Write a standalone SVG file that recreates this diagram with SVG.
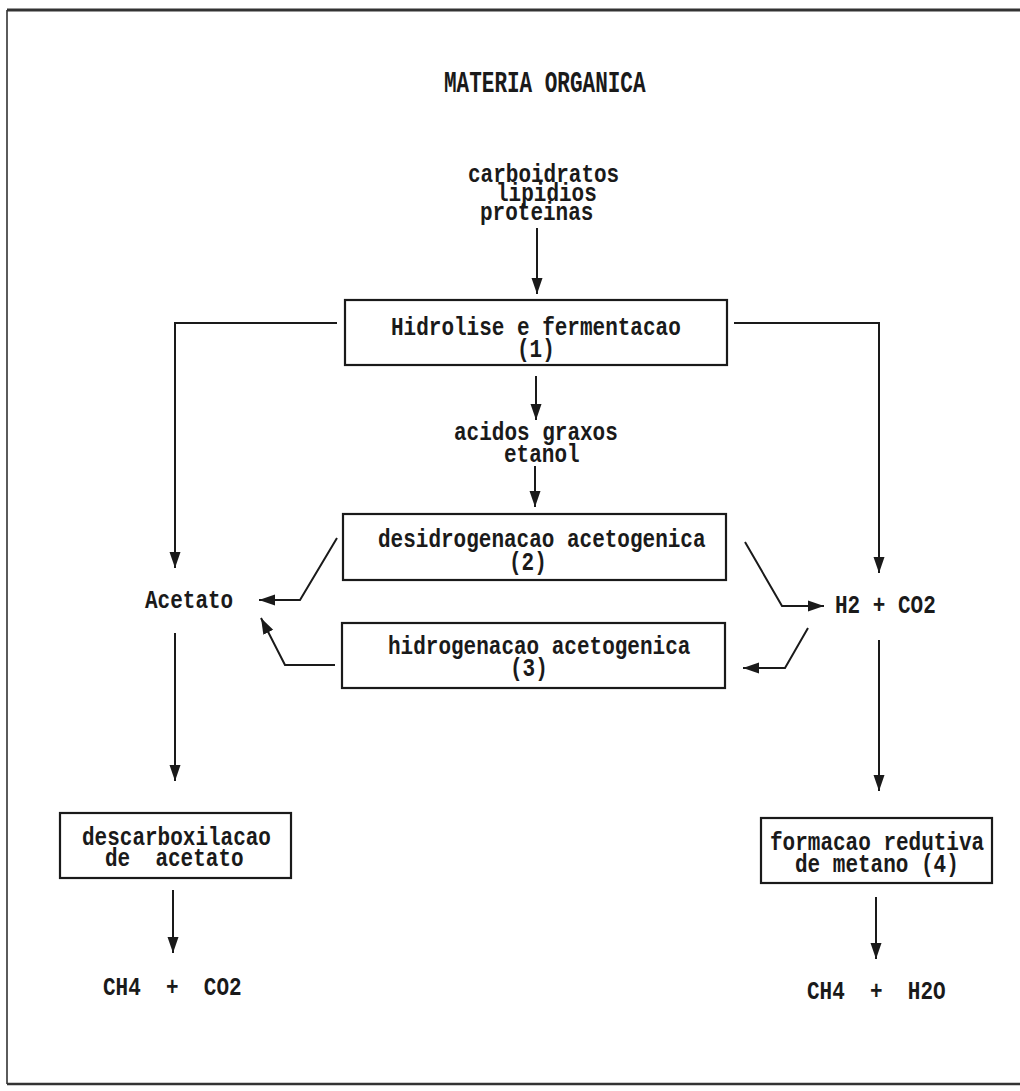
<svg xmlns="http://www.w3.org/2000/svg" width="1020" height="1091" viewBox="0 0 1020 1091">
<style>
.t{font-family:"Liberation Mono","DejaVu Sans Mono",monospace;font-weight:bold;font-size:21px;fill:#1a1a1a}
.box{fill:none;stroke:#1a1a1a;stroke-width:2.2}
.c{fill:none;stroke:#1a1a1a;stroke-width:2;marker-end:url(#ah)}
</style>
<defs>
<marker id="ah" markerUnits="userSpaceOnUse" markerWidth="16" markerHeight="12" refX="16" refY="6" orient="auto">
<path d="M0,0.5 L16,6 L0,11.5 Z" fill="#1a1a1a"/>
</marker>
</defs>
<rect width="1020" height="1091" fill="#ffffff"/>
<g id="frame" fill="none" stroke="#333">
<path d="M7,10 H1020" stroke-width="3"/>
<path d="M7,10 V1084" stroke-width="1.6"/>
<path d="M7,1084 H1020" stroke-width="2.4"/>
</g>
<g id="title"><text class="t" transform="translate(444,92) scale(1,1.4)">MATERIA ORGANICA</text></g>
<g id="materia">
<text class="t" transform="translate(468,182) scale(1,1.2)">carboidratos</text>
<text class="t" transform="translate(496,201) scale(1,1.2)">lipidios</text>
<text class="t" transform="translate(480,220) scale(1,1.2)">proteinas</text>
</g>
<g id="box1">
<rect class="box" x="345" y="300" width="382" height="65"/>
<text class="t" transform="translate(391,335) scale(1,1.2)">Hidrolise e fermentacao</text>
<text class="t" transform="translate(517,357) scale(1,1.2)">(1)</text>
</g>
<g id="acidos">
<text class="t" transform="translate(454,440) scale(1,1.2)">acidos graxos</text>
<text class="t" transform="translate(504,462) scale(1,1.2)">etanol</text>
</g>
<g id="box2">
<rect class="box" x="343" y="514" width="383" height="66"/>
<text class="t" transform="translate(378,547) scale(1,1.2)">desidrogenacao acetogenica</text>
<text class="t" transform="translate(509,570) scale(1,1.2)">(2)</text>
</g>
<g id="box3">
<rect class="box" x="342" y="623" width="383" height="65"/>
<text class="t" transform="translate(388,654) scale(1,1.2)">hidrogenacao acetogenica</text>
<text class="t" transform="translate(510,676) scale(1,1.2)">(3)</text>
</g>
<g id="acetato"><text class="t" transform="translate(145,608) scale(1,1.2)">Acetato</text></g>
<g id="h2co2"><text class="t" transform="translate(835,613) scale(1,1.2)">H2 + CO2</text></g>
<g id="box4">
<rect class="box" x="60" y="813" width="231" height="65"/>
<text class="t" transform="translate(82,845) scale(1,1.2)">descarboxilacao</text>
<text class="t" transform="translate(105,866) scale(1,1.2)" xml:space="preserve">de  acetato</text>
</g>
<g id="box5">
<rect class="box" x="761" y="818" width="231" height="65"/>
<text class="t" transform="translate(770,850) scale(1,1.2)">formacao redutiva</text>
<text class="t" transform="translate(795,872) scale(1,1.2)">de metano (4)</text>
</g>
<g id="prod1"><text class="t" transform="translate(103,995) scale(1,1.2)" xml:space="preserve">CH4  +  CO2</text></g>
<g id="prod2"><text class="t" transform="translate(807,999) scale(1,1.2)" xml:space="preserve">CH4  +  H2O</text></g>
<g id="connectors">
<path class="c" d="M537,228 V294"/>
<path class="c" d="M337,323 H175 V568"/>
<path class="c" d="M734,323 H879 V573"/>
<path class="c" d="M536,376 V420"/>
<path class="c" d="M535,466 V507"/>
<path class="c" d="M337,538 L300,600 H259"/>
<path class="c" d="M335,665 H285 L261,618"/>
<path class="c" d="M745,542 L782,606 H824"/>
<path class="c" d="M808,628 L785,668 H743"/>
<path class="c" d="M175,633 V781"/>
<path class="c" d="M879,640 V791"/>
<path class="c" d="M173,890 V953"/>
<path class="c" d="M876,897 V959"/>
</g>
</svg>
